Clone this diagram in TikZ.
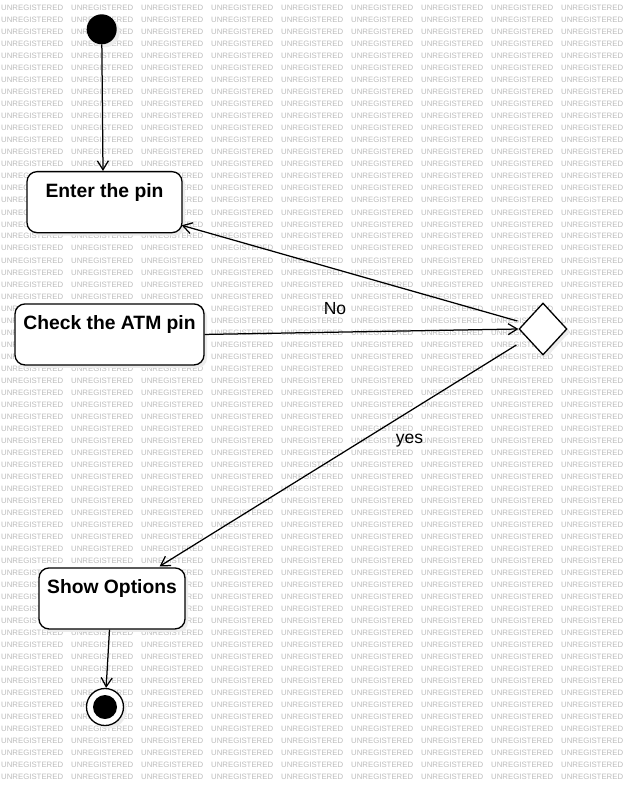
\documentclass[tikz,border=0pt]{standalone}
\usepackage{fontspec}
\setmainfont{Liberation Sans}
\usetikzlibrary{arrows.meta,shapes.geometric,shadows,calc}
\definecolor{wmgray}{RGB}{188,188,188}
\definecolor{shadowgray}{RGB}{236,236,236}
\begin{document}
\begin{tikzpicture}[x=1pt,y=-1pt,
  wm/.style={font=\fontsize{7.8}{8}\selectfont, text=wmgray, inner sep=0pt, anchor=base west},
  shad/.style={drop shadow={shadow xshift=3pt, shadow yshift=-3pt, fill=shadowgray, opacity=1}},
  statebox/.style={draw, line width=1.3pt, rounded corners=10pt, fill=white, shad, anchor=north,
    font=\bfseries\fontsize{19.3}{22}\selectfont, text height=13.7pt, text depth=23.3pt,
    inner ysep=12pt, inner xsep=4pt},
  arr/.style={-{Straight Barb[length=9pt,width=11pt]}, line width=1.25pt},
  lbl/.style={font=\fontsize{17.5}{20}\selectfont, inner sep=0pt, anchor=base}
]
\useasboundingbox[fill=white] (0,0) rectangle (627,786);
% watermark
\foreach \r in {0,...,64}{
  \foreach \c in {0,...,8}{
    \node[wm] (wm-\r-\c) at ({1+70*\c},{11+12*\r}) {UNREGISTERED};
  }
}
% nodes
\node[circle, fill=black, minimum size=30pt, inner sep=0pt, shad] (init) at (101.7,29.3) {};
\node[statebox, minimum width=155pt] (enter) at (104.5,171) {Enter the pin};
\node[statebox, minimum width=189pt] (check) at (109.5,303.3) {Check the ATM pin};
\node[statebox, minimum width=146pt] (show) at (112,567.3) {Show Options};
\node[diamond, draw, line width=1.3pt, fill=white, minimum width=48pt, minimum height=52pt,
  inner sep=0pt, shad] (dia) at (543,329) {};
\node[circle, draw, line width=1.3pt, fill=white, minimum size=37pt, inner sep=0pt, shad] (final) at (105,707) {};
\fill (final.center) circle[radius=12];
% connectors
\draw[arr] (init) -- ($(enter.north)+(-1.5,0)$);
\draw[arr] ($(dia.west)+(-1,-8)$) -- ($(enter.south east)+(-1,-8)$);
\draw[arr] (check.east) -- (dia.west);
\draw[arr] ($(dia.west)+(-2,16)$) -- ($(show.north east)+(-26,-1)$);
\draw[arr] ($(show.south)+(-2.5,0)$) -- (final);
% labels
\node[lbl] (no) at (335,314) {No};
\node[lbl] (yes) at (409.5,443.5) {yes};
\end{tikzpicture}
\end{document}
